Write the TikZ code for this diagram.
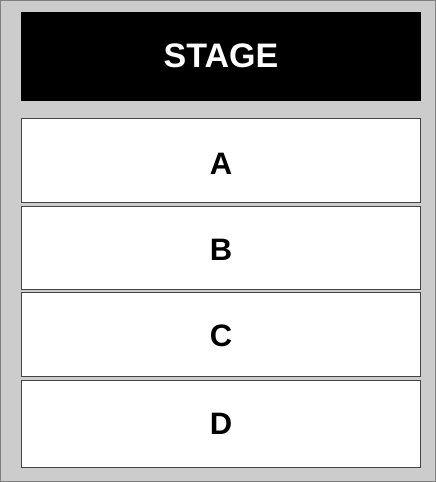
\documentclass[tikz,border=0pt]{standalone}
\usepackage{fontspec}
\setmainfont{Liberation Sans}
\definecolor{hallgray}{HTML}{CCCCCC}
\definecolor{framegray}{HTML}{7F7F7F}
\definecolor{rowline}{HTML}{444444}
\tikzset{
  rowbox/.style={draw=rowline, line width=1pt, fill=white},
  rowlabel/.style={font=\fontsize{31}{31}\selectfont\bfseries, text=black},
}
\begin{document}
\begin{tikzpicture}[x=1pt,y=-1pt]
\useasboundingbox (0,0) rectangle (436,482);
% Draw the hall
\draw[fill=hallgray, draw=framegray, line width=1pt] (0.5,0.5) rectangle (435.5,481.5);

% Draw the stage
\fill[black] (21,12) rectangle (421,101);
\node[font=\fontsize{34}{34}\selectfont\bfseries, text=white] (stage) at (221,55.5) {STAGE};

% Draw the seating rows
\draw[rowbox] (21.5,118.5) rectangle (420.5,202.5);
\draw[rowbox] (21.5,206.5) rectangle (420.5,289.5);
\draw[rowbox] (21.5,292.5) rectangle (420.5,376.5);
\draw[rowbox] (21.5,380.5) rectangle (420.5,467.5);

\node[rowlabel] (rowA) at (221,164) {A};
\node[rowlabel] (rowB) at (221,249.5) {B};
\node[rowlabel] (rowC) at (221,336) {C};
\node[rowlabel] (rowD) at (221,424) {D};
\end{tikzpicture}
\end{document}
